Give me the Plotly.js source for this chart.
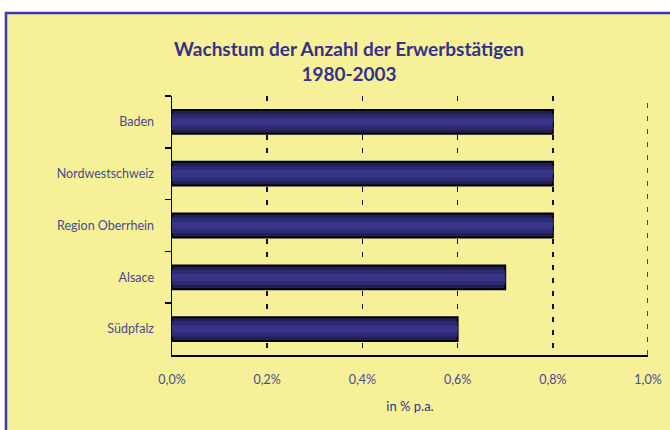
<!DOCTYPE html>
<html>
<head>
<meta charset="utf-8">
<script src="https://cdn.plot.ly/plotly-3.0.1.min.js"></script>
<style>html,body{margin:0;padding:0;background:#fff;}#chart{width:670px;height:430px;}</style>
</head>
<body>
<div id="chart"></div>
<script>
var regions = ["Baden", "Nordwestschweiz", "Region Oberrhein", "Alsace", "Südpfalz"];
var growth = [0.008, 0.008, 0.008, 0.007, 0.006];
var tickValues = [0, 0.002, 0.004, 0.006, 0.008, 0.010];
var tickLabels = ["0,0%", "0,2%", "0,4%", "0,6%", "0,8%", "1,0%"];

var font = "Lato, 'Open Sans', sans-serif";
var W = 670, H = 430, L = 172, R = 22, T = 96, B = 75;
var pw = W - L - R, ph = H - T - B;
function px(x){ return (x - L) / pw; }
function py(y){ return (H - B - y) / ph; }

var traces = [
  {type: "bar", orientation: "h", y: regions, x: growth, width: 0.46,
   marker: {color: "#211f55", line: {color: "#000000", width: 2}}, hoverinfo: "skip"},
  {type: "bar", orientation: "h", y: regions, x: growth, width: 0.3,
   marker: {color: "#2c2a70", line: {width: 0}}, hoverinfo: "skip"},
  {type: "bar", orientation: "h", y: regions, x: growth, width: 0.14,
   marker: {color: "#36358a", line: {width: 0}}, hoverinfo: "skip"}
];

var layout = {
  width: W, height: H,
  margin: {l: L, r: R, t: T, b: B},
  paper_bgcolor: "#ffffff",
  plot_bgcolor: "rgba(0,0,0,0)",
  showlegend: false,
  barmode: "overlay",
  font: {family: font, color: "#4b4a8c", size: 12},
  title: {
    text: "<b>Wachstum der Anzahl der Erwerbstätigen</b><br><b>1980-2003</b>",
    font: {family: font, size: 19, color: "#33328a"},
    x: px(349), xref: "paper", xanchor: "center",
    y: 1 - 56 / H, yref: "container", yanchor: "middle"
  },
  xaxis: {
    range: [0, 0.010], tickvals: tickValues, ticktext: tickLabels,
    showline: true, linecolor: "#000000", linewidth: 1.5,
    showgrid: true, gridcolor: "#111111", gridwidth: 1.5, griddash: "5px,8px",
    zeroline: false, ticks: "", ticklabelstandoff: 12,
    tickfont: {family: font, size: 12.5, color: "#4b4a8c"},
    title: {text: "in % p.a.", font: {family: font, size: 13, color: "#33328a"}, standoff: 16},
    fixedrange: true
  },
  yaxis: {
    autorange: "reversed", type: "category",
    showline: true, linecolor: "#000000", linewidth: 1.5,
    ticks: "outside", tickson: "boundaries", ticklen: 6, tickcolor: "#000000", tickwidth: 1.5,
    showgrid: false, ticklabelstandoff: 14,
    tickfont: {family: font, size: 12.5, color: "#4b4a8c"},
    fixedrange: true
  },
  shapes: [
    {type: "rect", xref: "paper", yref: "paper", layer: "below",
     x0: px(6), x1: px(675), y0: py(435), y1: py(13),
     fillcolor: "#f6f198", line: {color: "#3b3bb0", width: 2.5}},
    {type: "line", xref: "x", yref: "paper", layer: "below",
     x0: tickValues[5], x1: tickValues[5], y0: 0, y1: 1,
     line: {color: "#111111", width: 1.5, dash: "5px,8px"}}
  ]
};

Plotly.newPlot("chart", traces, layout, {displayModeBar: false, staticPlot: true});
</script>
</body>
</html>
